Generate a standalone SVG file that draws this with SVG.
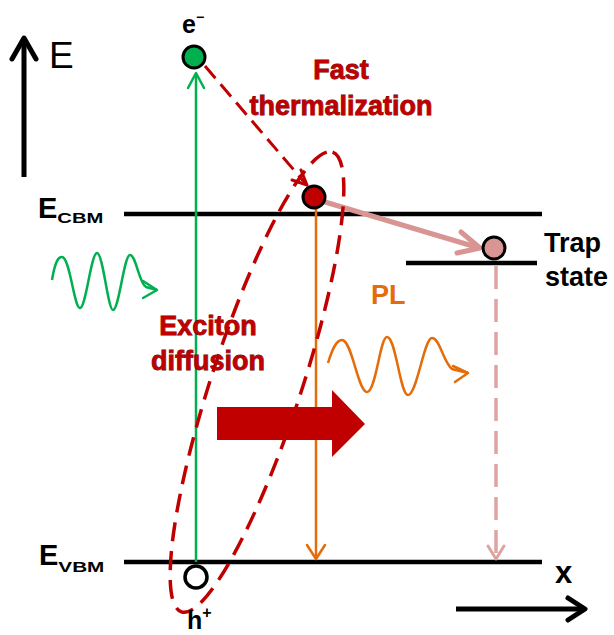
<svg xmlns="http://www.w3.org/2000/svg" width="614" height="635" viewBox="0 0 614 635">
<style>
.lbl{font-family:"Liberation Sans",Arial,sans-serif;font-weight:bold;fill:#000}
.red{font-family:"Liberation Sans",Arial,sans-serif;font-weight:bold;fill:#c00000;stroke:#6a0000;stroke-width:0.8;paint-order:stroke}
.band{stroke:#000;stroke-width:4.5;fill:none}
.chev{fill:none;stroke-linecap:round;stroke-linejoin:round}
</style>
<rect width="614" height="635" fill="#fff"/>
<g id="axis-E">
<line x1="24" y1="177" x2="24" y2="39" stroke="#000" stroke-width="5"/>
<polyline class="chev" points="12,59 24,38 36,59" stroke="#000" stroke-width="5"/>
<text x="49" y="68" font-family="Liberation Sans,Arial,sans-serif" font-size="37" fill="#000">E</text>
</g>
<g id="axis-x">
<line x1="456" y1="609" x2="583" y2="609" stroke="#000" stroke-width="5"/>
<polyline class="chev" points="568,598 585,609 568,620" stroke="#000" stroke-width="5"/>
<text class="lbl" x="555" y="583" font-size="31">x</text>
</g>
<g id="cbm">
<line class="band" x1="124" y1="214" x2="542" y2="214"/>
<text class="lbl" x="38" y="218" font-size="29">E<tspan font-size="15" dy="5" textLength="46" lengthAdjust="spacingAndGlyphs">CBM</tspan></text>
</g>
<g id="vbm">
<line class="band" x1="124" y1="562" x2="542" y2="562"/>
<text class="lbl" x="39" y="565" font-size="29">E<tspan font-size="15" dy="7" textLength="46" lengthAdjust="spacingAndGlyphs">VBM</tspan></text>
</g>
<g id="trap">
<line class="band" x1="406" y1="263" x2="537" y2="263"/>
<text class="lbl" x="544" y="252" font-size="27">Trap</text>
<text class="lbl" x="545" y="286" font-size="27">state</text>
</g>
<g id="connectors">
<line x1="196" y1="74" x2="196" y2="562" stroke="#00b050" stroke-width="2.5"/>
<polyline class="chev" points="188,88 196,73 204,88" stroke="#00b050" stroke-width="2.5"/>
<line x1="205" y1="66" x2="305" y2="183" stroke="#c00000" stroke-width="3" stroke-dasharray="16 8"/>
<polyline class="chev" points="292,180 307,185 301,170" stroke="#c00000" stroke-width="3"/>
<line x1="316" y1="208" x2="316" y2="557" stroke="#e46c0a" stroke-width="2.5"/>
<polyline class="chev" points="307,545 316,559 325,545" stroke="#e46c0a" stroke-width="2.5"/>
<line x1="325" y1="202" x2="476" y2="247" stroke="#d99594" stroke-width="5"/>
<polyline class="chev" points="461,232 480,248 457,253" stroke="#d99594" stroke-width="5"/>
<line x1="496" y1="266" x2="496" y2="556" stroke="#dfa3a2" stroke-width="3.5" stroke-dasharray="23 10"/>
<polyline class="chev" points="488,546 496,559 504,546" stroke="#dfa3a2" stroke-width="3"/>
</g>
<g id="exciton-ellipse">
<ellipse cx="0" cy="0" rx="242" ry="45" transform="translate(257,382) rotate(-71.8)" fill="none" stroke="#c00000" stroke-width="3.5" stroke-dasharray="19 10"/>
</g>
<g id="photon-in">
<path d="M52,280 C55,262 58,257 62,257 C70,257 74,308 80,308 C86,308 91,253 97,253 C103,253 108,310 113,310 C119,310 124,255 130,255 C136,255 139,283 146,287 L157,290" fill="none" stroke="#00b050" stroke-width="2.5"/>
<polyline class="chev" points="143,281 157,290 143,298" stroke="#00b050" stroke-width="2.5"/>
</g>
<g id="photon-pl">
<path d="M328,363 C332,350 336,340 342,340 C352,340 358,392 367,392 C376,392 380,337 387,337 C396,337 400,395 408,395 C417,395 424,338 432,338 C440,338 443,362 452,369 L468,373" fill="none" stroke="#e46c0a" stroke-width="2.5"/>
<polyline class="chev" points="453,366 468,373 455,382" stroke="#e46c0a" stroke-width="2.5"/>
<text x="371" y="304" font-family="Liberation Sans,Arial,sans-serif" font-weight="bold" font-size="27" fill="#e46c0a">PL</text>
</g>
<g id="diffusion-arrow">
<polygon points="217,407 332,407 332,390 365,424 332,457 332,440 217,440" fill="#c00000"/>
</g>
<g id="labels">
<text class="red" x="341" y="79" font-size="27" text-anchor="middle">Fast</text>
<text class="red" x="341" y="115" font-size="27" text-anchor="middle">thermalization</text>
<text class="red" x="208" y="335" font-size="27" text-anchor="middle">Exciton</text>
<text class="red" x="208" y="370" font-size="27" text-anchor="middle">diffusion</text>
</g>
<g id="electron">
<circle cx="194" cy="57" r="11" fill="#00b050" stroke="#000" stroke-width="3"/>
<text class="lbl" x="182" y="33" font-size="25">e<tspan font-size="14" dy="-11">−</tspan></text>
</g>
<g id="hot-electron">
<circle cx="314" cy="197" r="11" fill="#c00000" stroke="#000" stroke-width="3"/>
</g>
<g id="trapped-electron">
<circle cx="494" cy="248" r="11" fill="#d99594" stroke="#000" stroke-width="3"/>
</g>
<g id="hole">
<circle cx="196" cy="577" r="11" fill="#fff" stroke="#000" stroke-width="3.5"/>
<text class="lbl" x="187" y="629" font-size="25">h<tspan font-size="16" dy="-11">+</tspan></text>
</g>
</svg>
